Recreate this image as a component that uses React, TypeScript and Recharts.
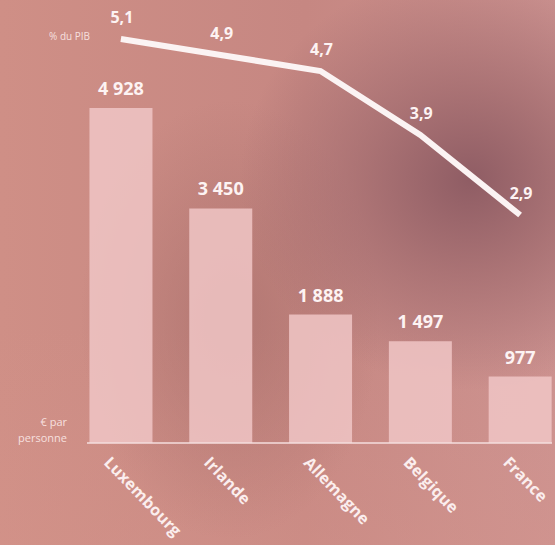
import { ComposedChart, Bar, Line, XAxis, YAxis, LabelList } from 'recharts';

const pays = ['Luxembourg', 'Irlande', 'Allemagne', 'Belgique', 'France'];
const euroParPersonne = [4928, 3450, 1888, 1497, 977];
const pctPib = [5.1, 4.9, 4.7, 3.9, 2.9];

const data = pays.map((p, i) => ({ pays: p, euros: euroParPersonne[i], pib: pctPib[i] }));

// espace insécable pour que le label ne se coupe pas
const fmtEuros = (v: any) => String(v).replace(/\B(?=(\d{3})+(?!\d))/g, '\u00a0');
const fmtPib = (v: any) => String(v).replace('.', ',');

const FONT = '"Open Sans", sans-serif';

function PaysTick({ x, y, payload }: any) {
    return (
        <text
            x={x - 8}
            y={y + 3}
            transform={`rotate(46, ${x - 8}, ${y + 3})`}
            textAnchor="start"
            dominantBaseline="hanging"
            fill="#fbeeee"
            fontFamily={FONT}
            fontWeight={700}
            fontSize={16}
            letterSpacing={0.2}
        >
            {payload.value}
        </text>
    );
}

export default function App() {
    return (
        <div
            style={{
                position: 'fixed',
                inset: 0,
                overflow: 'hidden',
                background: [
                    'radial-gradient(ellipse 230px 210px at 470px 180px, rgba(140,90,98,0.95) 0%, rgba(158,104,108,0.7) 45%, rgba(170,112,112,0) 100%)',
                    'radial-gradient(ellipse 150px 220px at 230px 320px, rgba(165,108,104,0.6) 0%, rgba(165,108,104,0) 100%)',
                    'linear-gradient(180deg, rgba(0,0,0,0) 60%, rgba(215,150,140,0.35) 100%)',
                    'linear-gradient(90deg, #cf8f86 0%, #c68782 55%, #cc9290 100%)',
                ].join(', '),
                fontFamily: FONT,
            }}
        >
            <div style={{ position: 'absolute', left: 0, width: 90, top: 29, textAlign: 'right', color: 'rgba(255,240,240,0.85)', fontSize: 10 }}>
                % du PIB
            </div>
            <div style={{ position: 'absolute', left: 0, width: 67, top: 414, textAlign: 'right', color: 'rgba(255,240,240,0.85)', fontSize: 11, lineHeight: '16px' }}>
                € par
                <br />
                personne
            </div>
            <ComposedChart
                width={600}
                height={545}
                data={data}
                margin={{ top: 35, right: 48, bottom: 0, left: 87 }}
                barCategoryGap="18.5%"
                style={{ position: 'absolute', left: 0, top: 0 }}
            >
                <XAxis
                    dataKey="pays"
                    interval={0}
                    padding={{ left: -16, right: -18 }}
                    axisLine={{ stroke: '#f4dede', strokeWidth: 1.5 }}
                    tickLine={false}
                    tick={<PaysTick />}
                    height={102}
                />
                <YAxis yAxisId="e" hide domain={[0, 6000]} />
                <YAxis yAxisId="p" hide orientation="right" domain={[0.05, 5.15]} />
                <Bar yAxisId="e" dataKey="euros" fill="#f0c6c6" fillOpacity={0.85} isAnimationActive={false}>
                    <LabelList
                        dataKey="euros"
                        position="top"
                        offset={13}
                        formatter={fmtEuros}
                        fill="#fdf3f3"
                        fontFamily={FONT}
                        fontWeight={700}
                        fontSize={18}
                    />
                </Bar>
                <Line
                    yAxisId="p"
                    dataKey="pib"
                    type="linear"
                    stroke="#fbf3f3"
                    strokeWidth={6}
                    dot={false}
                    isAnimationActive={false}
                >
                    <LabelList
                        dataKey="pib"
                        position="top"
                        offset={16}
                        formatter={fmtPib}
                        fill="#fdf3f3"
                        fontFamily={FONT}
                        fontWeight={700}
                        fontSize={16}
                        dx={1}
                    />
                </Line>
            </ComposedChart>
        </div>
    );
}
